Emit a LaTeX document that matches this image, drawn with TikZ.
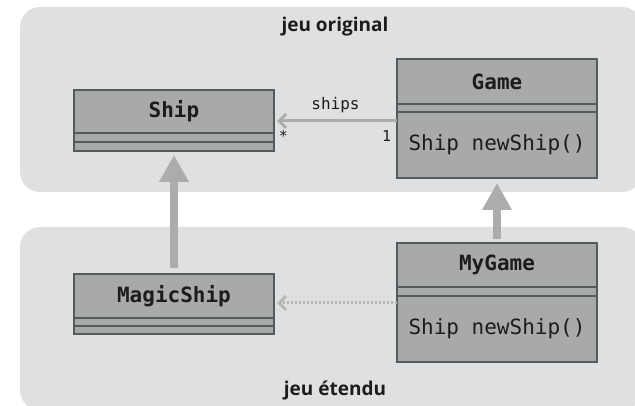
\documentclass[tikz,border=0pt]{standalone}
\usepackage{fontspec}
\setsansfont{Open Sans}
\setmonofont{DejaVu Sans Mono}
\usetikzlibrary{positioning,arrows.meta}
\definecolor{groupgray}{HTML}{DFE0E2}
\definecolor{boxgray}{HTML}{A7AAA9}
\definecolor{borderdark}{HTML}{565A5D}
\definecolor{linkgray}{HTML}{AAADAC}
\definecolor{dotgray}{HTML}{B5B7B6}
\definecolor{ink}{HTML}{1C1C1C}
\tikzset{
  container/.style={fill=groupgray, rounded corners=20pt},
  grouptitle/.style={font=\sffamily\bfseries\fontsize{19}{19}\selectfont, text=ink},
  classname/.style={draw=borderdark, fill=boxgray, line width=2pt,
    minimum width=200pt, inner sep=0pt, outer sep=0pt, text=ink,
    font=\ttfamily\bfseries\fontsize{21}{21}\selectfont},
  compart/.style={classname, font=\ttfamily\fontsize{21}{21}\selectfont},
  inherits/.style={draw=linkgray, line width=8pt,
    -{Triangle[length=27pt,width=28pt]}},
  assoc/.style={draw=linkgray, line width=3pt,
    -{Straight Barb[length=7pt,width=14pt]}},
  depends/.style={draw=dotgray, line width=3pt, dash pattern=on 2pt off 2pt,
    -{Straight Barb[length=7pt,width=14pt]}},
  mult/.style={font=\ttfamily\fontsize{15}{15}\selectfont, text=ink}
}
\begin{document}
\begin{tikzpicture}[x=1pt, y=-1pt]
  \useasboundingbox (0,0) rectangle (635,406);
  \fill[container] (20,7) rectangle (642,192);
  \fill[container] (20,227) rectangle (642,410);
  \node[grouptitle] (orig-title) at (335,27) {jeu original};
  \node[grouptitle] (ext-title) at (335,391) {jeu étendu};

  \node[classname, minimum height=43pt] (ship) at (174,111.5) {Ship};
  \node[compart, minimum height=9pt, below=0pt of ship] (ship-attr) {};
  \node[compart, minimum height=9pt, below=0pt of ship-attr] (ship-ops) {};

  \node[classname, minimum height=45pt] (game) at (497,81.5) {Game};
  \node[compart, minimum height=8pt, below=0pt of game] (game-attr) {};
  \node[compart, minimum height=66pt, below=0pt of game-attr] (game-ops) {Ship newShip()};

  \node[classname, minimum height=44pt] (magicship) at (174,296) {MagicShip};
  \node[compart, minimum height=8pt, below=0pt of magicship] (magicship-attr) {};
  \node[compart, minimum height=8pt, below=0pt of magicship-attr] (magicship-ops) {};

  \node[classname, minimum height=44pt] (mygame) at (497,265) {MyGame};
  \node[compart, minimum height=9pt, below=0pt of mygame] (mygame-attr) {};
  \node[compart, minimum height=66pt, below=0pt of mygame-attr] (mygame-ops) {Ship newShip()};

  \coordinate (ships-from) at ([yshift=-9pt]game-ops.north west);
  \draw[assoc, shorten >=3pt] (ships-from) -- (ships-from -| ship.east)
    node[midway, above=3pt, font=\ttfamily\fontsize{16}{16}\selectfont, text=ink] (ships-label) {ships}
    node[pos=0, mult, below left=5pt and 1pt] (one) {1}
    node[pos=1, mult, below right=5pt and 0pt] (many) {*};

  \coordinate (uses-from) at ([yshift=-7pt]mygame-ops.north west);
  \draw[depends, shorten >=3pt] (uses-from) -- (uses-from -| magicship.east);

  \draw[inherits, shorten <=6pt, shorten >=4pt] (magicship.north) -- (ship-ops.south);
  \draw[inherits, shorten <=4pt, shorten >=5pt] (mygame.north) -- (game-ops.south);
\end{tikzpicture}
\end{document}
